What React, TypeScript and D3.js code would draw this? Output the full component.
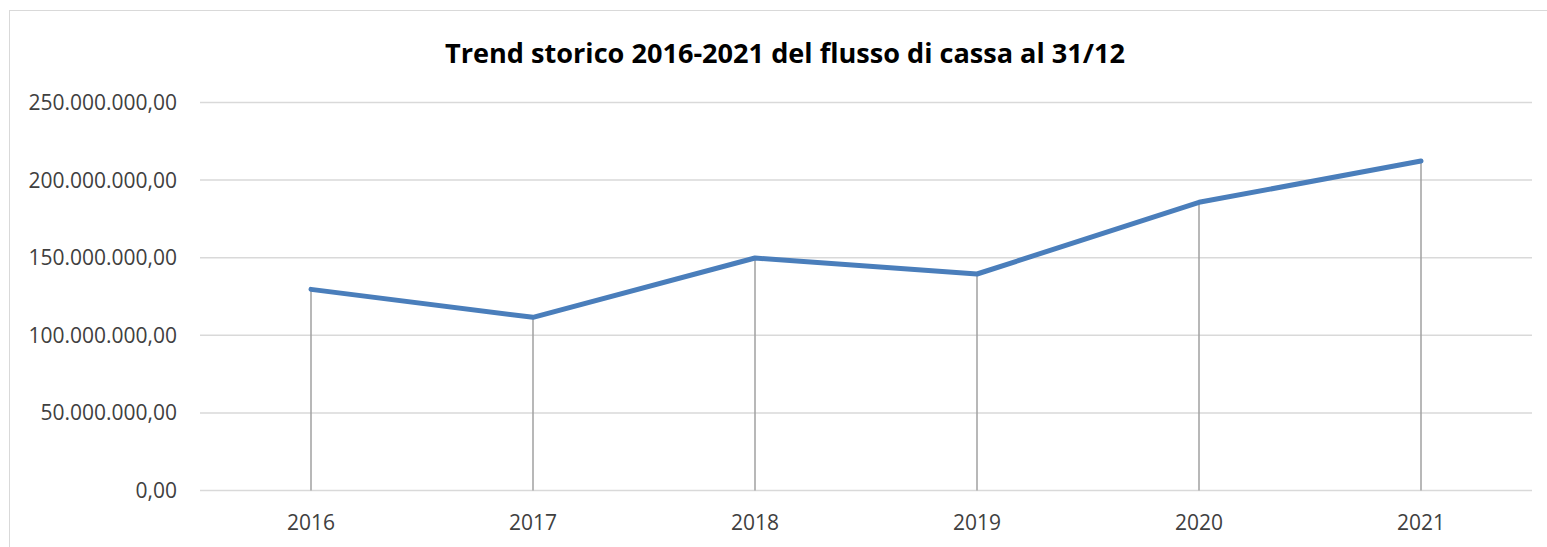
import React from "react";
import * as d3 from "d3";

const years = ["2016", "2017", "2018", "2019", "2020", "2021"];
const values = [129.6e6, 111.6e6, 149.8e6, 139.5e6, 185.7e6, 212.3e6];
const yTicks = [0, 50e6, 100e6, 150e6, 200e6, 250e6];
const title = "Trend storico 2016-2021 del flusso di cassa al 31/12";

const W = 1547;
const H = 547;
const left = 200;
const right = 1532;
const top = 102.5;
const bottom = 490.5;

const fmt = (v: number) => {
  const s = d3.format(",.2f")(v);
  return s.replace(/,/g, "#").replace(".", ",").replace(/#/g, ".");
};

export default function App() {
  const x = d3.scaleBand<string>().domain(years).range([left, right]);
  const y = d3.scaleLinear().domain([0, 250e6]).range([bottom, top]);
  const cx = (d: string) => (x(d) as number) + x.bandwidth() / 2;
  const line = d3
    .line<number>()
    .x((_, i) => cx(years[i]))
    .y((v) => y(v));
  const font = "'Open Sans', Calibri, sans-serif";
  return (
    <svg
      width={W}
      height={H}
      style={{ position: "absolute", left: 0, top: 0, background: "#fff" }}
    >
      <rect x={9.5} y={10.5} width={W} height={H} fill="#fff" stroke="#d9d9d9" strokeWidth={1} />
      <text
        x={785}
        y={62.5}
        textAnchor="middle"
        fontFamily="'Liberation Sans Narrow', 'Open Sans', sans-serif"
        fontWeight="bold"
        fontSize={26.5}
        fill="#000"
        textLength={680}
        lengthAdjust="spacingAndGlyphs"
      >
        {title}
      </text>
      {yTicks.map((t) => (
        <g key={t}>
          <line x1={left} x2={right} y1={y(t)} y2={y(t)} stroke="#d9d9d9" strokeWidth={1.5} />
          <text
            x={177}
            y={y(t)}
            dy="0.36em"
            textAnchor="end"
            fontFamily={font}
            fontSize={21}
            fill="#404040"
          >
            {fmt(t)}
          </text>
        </g>
      ))}
      {years.map((yr, i) => (
        <g key={yr}>
          <line
            x1={cx(yr)}
            x2={cx(yr)}
            y1={y(values[i])}
            y2={y(0)}
            stroke="#a0a0a0"
            strokeWidth={1.5}
          />
          <text
            x={cx(yr)}
            y={522}
            dy="0.36em"
            textAnchor="middle"
            fontFamily={font}
            fontSize={21}
            fill="#404040"
          >
            {yr}
          </text>
        </g>
      ))}
      <path
        d={line(values) || ""}
        fill="none"
        stroke="#4a7ebb"
        strokeWidth={5}
        strokeLinejoin="round"
        strokeLinecap="round"
      />
    </svg>
  );
}
